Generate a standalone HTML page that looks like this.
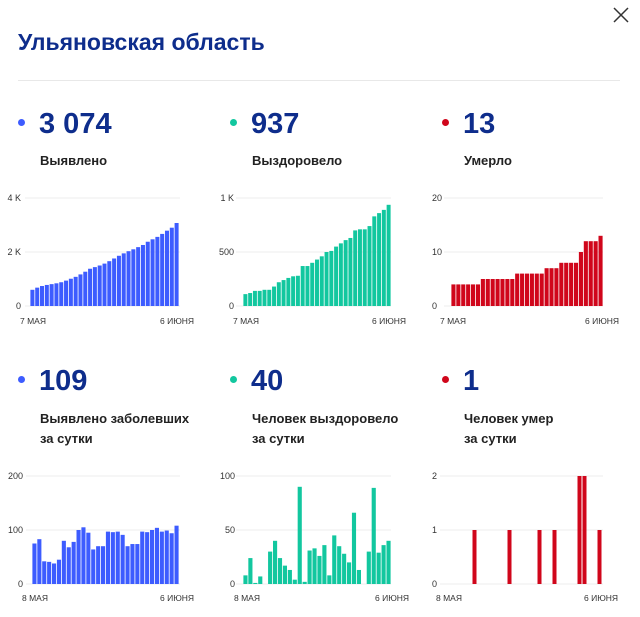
<!DOCTYPE html>
<html><head><meta charset="utf-8">
<style>
body{margin:0;background:#fff;width:640px;height:617px;position:relative;overflow:hidden;font-family:"Liberation Sans",Arial,sans-serif}
.t{position:absolute;left:18px;top:29px;font-size:23px;font-weight:bold;color:#0e2d8c;white-space:nowrap}
.sep{position:absolute;left:18px;top:80px;width:602px;height:1px;background:#e8e8e8}
.num{position:absolute;font-size:29px;font-weight:bold;color:#0e2d8c;line-height:1;white-space:nowrap}
.dot{position:absolute;width:7px;height:7px;border-radius:50%}
.lab{position:absolute;font-size:13px;font-weight:bold;color:#222;line-height:20px;white-space:nowrap}
svg{position:absolute;left:0;top:0}
</style></head><body>
<div class="t">Ульяновская область</div>
<svg width="640" height="617" style="z-index:1"><path d="M614 8 L628 22 M628 8 L614 22" stroke="#333" stroke-width="1.5"/></svg>
<div class="sep"></div>

<div class="dot" style="left:18px;top:119px;background:#3d5cff"></div>
<div class="num" style="left:39px;top:110px">3 074</div>
<div class="lab" style="left:40px;top:151px">Выявлено</div>
<div class="dot" style="left:230px;top:119px;background:#12c79f"></div>
<div class="num" style="left:251px;top:110px">937</div>
<div class="lab" style="left:252px;top:151px">Выздоровело</div>
<div class="dot" style="left:442px;top:119px;background:#d0061b"></div>
<div class="num" style="left:463px;top:110px">13</div>
<div class="lab" style="left:464px;top:151px">Умерло</div>

<div class="dot" style="left:18px;top:376px;background:#3d5cff"></div>
<div class="num" style="left:39px;top:367px">109</div>
<div class="lab" style="left:40px;top:409px">Выявлено заболевших<br>за сутки</div>
<div class="dot" style="left:230px;top:376px;background:#12c79f"></div>
<div class="num" style="left:251px;top:367px">40</div>
<div class="lab" style="left:252px;top:409px">Человек выздоровело<br>за сутки</div>
<div class="dot" style="left:442px;top:376px;background:#d0061b"></div>
<div class="num" style="left:463px;top:367px">1</div>
<div class="lab" style="left:464px;top:409px">Человек умер<br>за сутки</div>

<svg id="c" width="640" height="617"></svg>
<script>
var s='';
function chart(o){
  var x0=o.x0,x1=o.x1,yb=o.yb,yt=o.yt,n=o.d.length,w=(x1-x0)/n;
  for(var i=0;i<o.ticks.length;i++){
    var y=yb-(yb-yt)*i/(o.ticks.length-1);
    s+='<line x1="'+o.gx+'" x2="'+o.gx2+'" y1="'+y+'" y2="'+y+'" stroke="#ececec"/>';
    s+='<text x="'+o.lx+'" y="'+(y+3)+'" font-size="9" fill="#333" text-anchor="'+o.anc+'">'+o.ticks[i]+'</text>';
  }
  for(var i=0;i<n;i++){
    var h=(yb-yt)*o.d[i]/o.max; if(h<=0)continue;
    var bw=o.bw||w-0.8;
    s+='<rect x="'+(x0+i*w+(w-bw)/2).toFixed(2)+'" y="'+(yb-h).toFixed(2)+'" width="'+bw.toFixed(2)+'" height="'+h.toFixed(2)+'" fill="'+o.c+'"/>';
  }
  s+='<text x="'+o.ax+'" y="'+o.ay+'" font-size="8.5" fill="#333">'+o.a+'</text>';
  s+='<text x="'+o.bx+'" y="'+o.ay+'" font-size="8.5" fill="#333">'+o.b+'</text>';
}
var c1=[600,680,740,780,810,840,880,940,1010,1080,1170,1270,1380,1440,1500,1570,1660,1760,1860,1950,2030,2100,2180,2260,2380,2470,2560,2670,2790,2900,3074];
var c2=[110,120,140,140,150,150,180,220,240,260,275,280,370,370,400,430,460,500,510,550,580,610,630,700,710,710,740,830,860,890,937];
var c3=[4,4,4,4,4,4,5,5,5,5,5,5,5,6,6,6,6,6,6,7,7,7,8,8,8,8,10,12,12,12,13];
var d1=[75,83,42,41,38,45,80,68,78,100,105,95,64,70,70,97,96,97,91,70,74,74,97,96,100,104,97,99,94,108];
var d2=[8,24,1,7,0,30,40,24,17,13,4,90,2,31,33,26,36,8,45,35,28,20,66,13,0,30,89,29,36,40];
var d3=[0,0,0,0,1,0,0,0,0,0,0,1,0,0,0,0,0,1,0,0,1,0,0,0,0,2,2,0,0,1];
chart({x0:30,x1:179,yb:306,yt:198,d:c1,max:4000,ticks:['0','2 K','4 K'],gx:25,gx2:180,lx:21,anc:'end',c:'#3d5cff',a:'7 МАЯ',b:'6 ИЮНЯ',ax:20,bx:160,ay:324});
chart({x0:243,x1:391,yb:306,yt:198,d:c2,max:1000,ticks:['0','500','1 K'],gx:236,gx2:391,lx:234,anc:'end',c:'#12c79f',a:'7 МАЯ',b:'6 ИЮНЯ',ax:233,bx:372,ay:324});
chart({x0:451,x1:603,yb:306,yt:198,d:c3,max:20,ticks:['0','10','20'],gx:444,gx2:603,lx:432,anc:'start',c:'#d0061b',a:'7 МАЯ',b:'6 ИЮНЯ',ax:440,bx:585,ay:324});
chart({x0:32,x1:179,yb:584,yt:476,d:d1,max:200,ticks:['0','100','200'],gx:26,gx2:180,lx:23,anc:'end',c:'#3d5cff',a:'8 МАЯ',b:'6 ИЮНЯ',ax:22,bx:160,ay:601});
chart({x0:243,x1:391,yb:584,yt:476,d:d2,max:100,ticks:['0','50','100'],gx:236,gx2:391,lx:235,anc:'end',c:'#12c79f',a:'8 МАЯ',b:'6 ИЮНЯ',ax:234,bx:375,ay:601});
chart({x0:452,x1:602,yb:584,yt:476,d:d3,max:2,ticks:['0','1','2'],gx:440,gx2:603,lx:432,anc:'start',c:'#d0061b',bw:4,a:'8 МАЯ',b:'6 ИЮНЯ',ax:436,bx:584,ay:601});
document.getElementById('c').innerHTML=s;
</script>
</body></html>
